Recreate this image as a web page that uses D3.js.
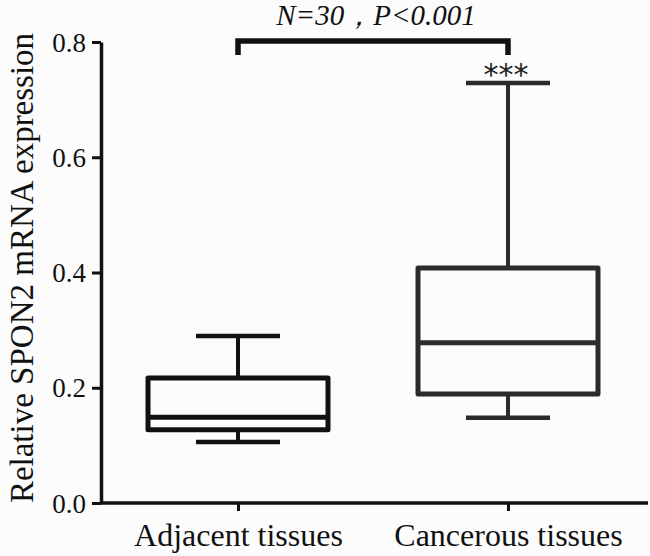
<!DOCTYPE html>
<html>
<head>
<meta charset="utf-8">
<script src="https://cdn.jsdelivr.net/npm/d3@7"></script>
<style>
  body { margin: 0; background: #fcfcfd; }
  svg { display: block; font-family: "Liberation Serif", "Times New Roman", serif; }
  svg text { font-family: "Liberation Serif", "Times New Roman", serif; }
  svg text.stars { font-family: "DejaVu Sans", sans-serif; }
</style>
</head>
<body>
<div class="chart"></div>
<script>
const width = 650;
const height = 556;

// data
const groups = ["Adjacent tissues", "Cancerous tissues"];
const whiskerLow = [0.106, 0.148];
const q1 = [0.127, 0.189];
const median = [0.149, 0.278];
const q3 = [0.217, 0.408];
const whiskerHigh = [0.290, 0.729];
const boxColors = ["#111", "#2b2b2b"];
const yTicks = [0.0, 0.2, 0.4, 0.6, 0.8];
const annotation = "N=30，P<0.001";
const stars = "***";

const boxes = groups.map((g, i) => ({
  name: g, lo: whiskerLow[i], q1: q1[i], med: median[i], q3: q3[i], hi: whiskerHigh[i], color: boxColors[i]
}));

const svg = d3.select(".chart")
  .append("svg")
  .attr("width", width)
  .attr("height", height);

const x = d3.scalePoint()
  .domain(groups)
  .range([103, 643])
  .padding(0.5);

const y = d3.scaleLinear()
  .domain([0, 0.8])
  .range([503, 42]);

const boxHalf = 90;
const capHalf = 42;

// y axis
const yAxis = svg.append("g")
  .attr("transform", "translate(101,0)")
  .call(d3.axisLeft(y).tickValues(yTicks).tickFormat(d3.format(".1f")).tickSize(9).tickSizeOuter(0));
yAxis.attr("font-family", null);
yAxis.select(".domain").attr("stroke", "#111").attr("stroke-width", 3.5);
yAxis.selectAll(".tick line").attr("stroke", "#111").attr("stroke-width", 3);
yAxis.selectAll(".tick text")
  .attr("font-size", 27)
  .attr("fill", "#111")
  .attr("x", -15)
  .attr("dy", "0.34em");

// x axis
const xAxis = svg.append("g")
  .attr("transform", "translate(0,503)")
  .call(d3.axisBottom(x).tickSize(8).tickSizeOuter(0));
xAxis.attr("font-family", null);
xAxis.select(".domain").attr("d", "M100,0H648").attr("stroke", "#111").attr("stroke-width", 3.5);
xAxis.selectAll(".tick line").attr("stroke", "#111").attr("stroke-width", 3);
xAxis.selectAll(".tick text")
  .attr("font-size", 32)
  .attr("fill", "#111")
  .attr("y", 43)
  .attr("dy", 0);

// y label
svg.append("text")
  .attr("transform", "translate(33," + 268 + ") rotate(-90)")
  .attr("text-anchor", "middle")
  .attr("font-size", 33)
  .attr("fill", "#111")
  .text("Relative SPON2 mRNA expression");

// boxes
const bx = svg.append("g").selectAll("g")
  .data(boxes)
  .enter()
  .append("g")
  .attr("stroke", d => d.color)
  .attr("fill", "none")
  .attr("stroke-linejoin", "round");

bx.append("line")
  .attr("x1", d => x(d.name)).attr("x2", d => x(d.name))
  .attr("y1", d => y(d.hi)).attr("y2", d => y(d.q3))
  .attr("stroke-width", 4);
bx.append("line")
  .attr("x1", d => x(d.name)).attr("x2", d => x(d.name))
  .attr("y1", d => y(d.q1)).attr("y2", d => y(d.lo))
  .attr("stroke-width", 4);
bx.append("line")
  .attr("x1", d => x(d.name) - capHalf).attr("x2", d => x(d.name) + capHalf)
  .attr("y1", d => y(d.hi)).attr("y2", d => y(d.hi))
  .attr("stroke-width", 4.5);
bx.append("line")
  .attr("x1", d => x(d.name) - capHalf).attr("x2", d => x(d.name) + capHalf)
  .attr("y1", d => y(d.lo)).attr("y2", d => y(d.lo))
  .attr("stroke-width", 4.5);
bx.append("rect")
  .attr("x", d => x(d.name) - boxHalf)
  .attr("width", boxHalf * 2)
  .attr("y", d => y(d.q3))
  .attr("height", d => y(d.q1) - y(d.q3))
  .attr("fill", "none")
  .attr("stroke-width", 5);
bx.append("line")
  .attr("x1", d => x(d.name) - boxHalf).attr("x2", d => x(d.name) + boxHalf)
  .attr("y1", d => y(d.med)).attr("y2", d => y(d.med))
  .attr("stroke-width", 5);

// significance bracket
const bracketY = 41;
const bracketDrop = 14;
svg.append("path")
  .attr("d", "M" + x(groups[0]) + "," + (bracketY + bracketDrop) +
             "V" + bracketY + "H" + x(groups[1]) + "V" + (bracketY + bracketDrop))
  .attr("fill", "none")
  .attr("stroke", "#111")
  .attr("stroke-width", 5.5);

svg.append("text")
  .attr("x", (x(groups[0]) + x(groups[1])) / 2 + 3)
  .attr("y", 25)
  .attr("text-anchor", "middle")
  .attr("font-size", 29)
  .attr("font-style", "italic")
  .attr("fill", "#111")
  .text(annotation);

svg.append("text")
  .attr("class", "stars")
  .attr("x", x(groups[1]) - 2)
  .attr("y", 85)
  .attr("text-anchor", "middle")
  .attr("font-size", 30)
  .attr("fill", "#222")
  .text(stars);
</script>
</body>
</html>
